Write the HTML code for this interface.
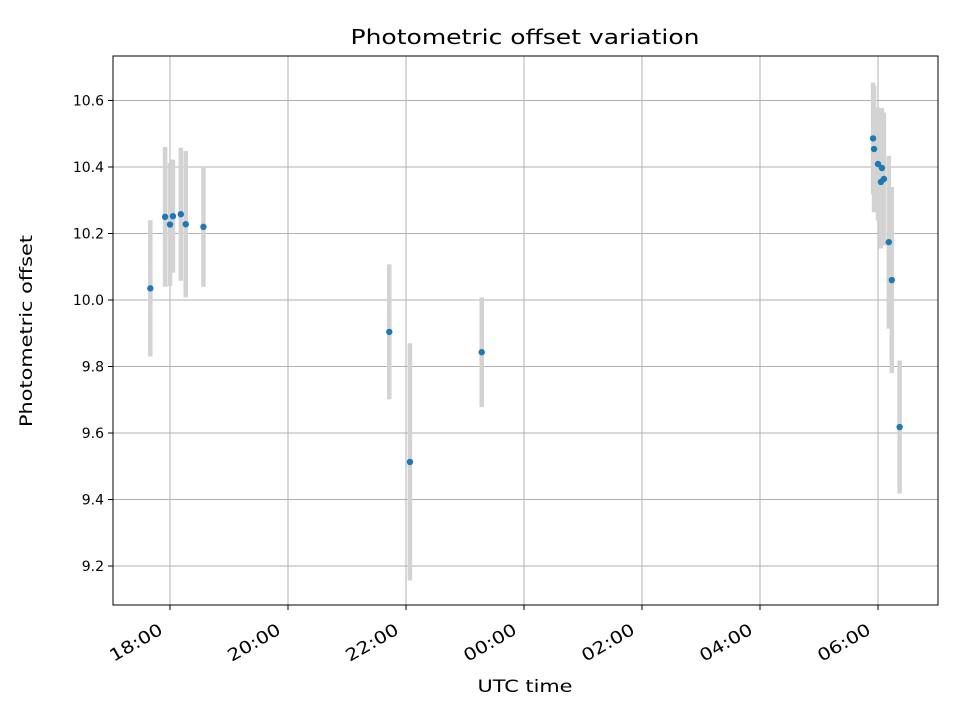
<!DOCTYPE html>
<html><head><meta charset="utf-8"><style>
body{margin:0;background:#fff;font-family:"Liberation Sans","DejaVu Sans",sans-serif}
svg text{font-family:"DejaVu Sans","Liberation Sans",sans-serif}
</style></head><body>
<svg id="chart" width="960" height="720" viewBox="0 0 960 720" xmlns="http://www.w3.org/2000/svg">
<rect width="960" height="720" fill="#fff"/>
<g id="grid"></g>
<g id="errs"></g>
<g id="pts"></g>
<rect x="113" y="56" width="825" height="549" fill="none" stroke="#000" stroke-width="1"/>
<g id="ticks"></g>
<text x="525" y="44" text-anchor="middle" font-size="20" textLength="349" lengthAdjust="spacingAndGlyphs">Photometric offset variation</text>
<text x="525" y="692" text-anchor="middle" font-size="17" textLength="95" lengthAdjust="spacingAndGlyphs">UTC time</text>
<text x="32" y="331" text-anchor="middle" font-size="17" textLength="192" lengthAdjust="spacingAndGlyphs" transform="rotate(-90 32 331)">Photometric offset</text>
</svg>
<script>
const times = ["17:40","17:55","18:00","18:03","18:11","18:16","18:34","21:43","22:04","23:17","05:55","05:56","06:00","06:03","06:04","06:06","06:11","06:14","06:22"];
const values = [10.035,10.25,10.227,10.252,10.258,10.228,10.22,9.904,9.513,9.843,10.486,10.454,10.409,10.355,10.397,10.364,10.174,10.06,9.618];
const errors = [0.205,0.21,0.185,0.17,0.2,0.22,0.18,0.203,0.357,0.165,0.168,0.19,0.17,0.2,0.18,0.2,0.26,0.28,0.2];
const xTickLabels = ["18:00","20:00","22:00","00:00","02:00","04:00","06:00"];
const yTicks = [9.2,9.4,9.6,9.8,10.0,10.2,10.4,10.6];
const NS="http://www.w3.org/2000/svg";
function hrs(t){let [h,m]=t.split(":").map(Number);if(h<12)h+=24;return h+m/60;}
function xs(t){return 170+(hrs(t)-18)*59;}
function ys(v){return 300-(v-10)*332.5;}
function mk(tag,attrs,parent){const e=document.createElementNS(NS,tag);for(const k in attrs)e.setAttribute(k,attrs[k]);parent.appendChild(e);return e;}
const grid=document.getElementById('grid'),ticks=document.getElementById('ticks'),errs=document.getElementById('errs'),pts=document.getElementById('pts');
xTickLabels.forEach(l=>{
  const x=xs(l);
  const g=mk('line',{x1:x,x2:x,y1:56,y2:605,stroke:'#b0b0b0','stroke-width':1},grid);
  
  mk('line',{x1:x,x2:x,y1:605,y2:610,stroke:'#000'},ticks);
  const t=mk('text',{x:x-6,y:633,'font-size':17,textLength:58,lengthAdjust:'spacingAndGlyphs','text-anchor':'end',transform:`rotate(-30 ${x-6} 633)`},ticks);
  t.textContent=l;
  
});
yTicks.forEach(v=>{
  const y=ys(v);
  const g=mk('line',{x1:113,x2:938,y1:y,y2:y,stroke:'#b0b0b0','stroke-width':1},grid);
  
  mk('line',{x1:108,x2:113,y1:y,y2:y,stroke:'#000'},ticks);
  const t=mk('text',{x:104,y:y+5,'font-size':14,'text-anchor':'end'},ticks);
  t.textContent=v.toFixed(1);
  
});
times.forEach((t,i)=>{
  const x=xs(t);
  const e=mk('line',{x1:x,x2:x,y1:ys(values[i]+errors[i]),y2:ys(values[i]-errors[i]),stroke:'#d3d3d3','stroke-width':4.5},errs);
  
});
times.forEach((t,i)=>{
  const c=mk('circle',{cx:xs(t),cy:ys(values[i]),r:3.2,fill:'#1f77b4'},pts);
  
});
</script>
</body></html>
